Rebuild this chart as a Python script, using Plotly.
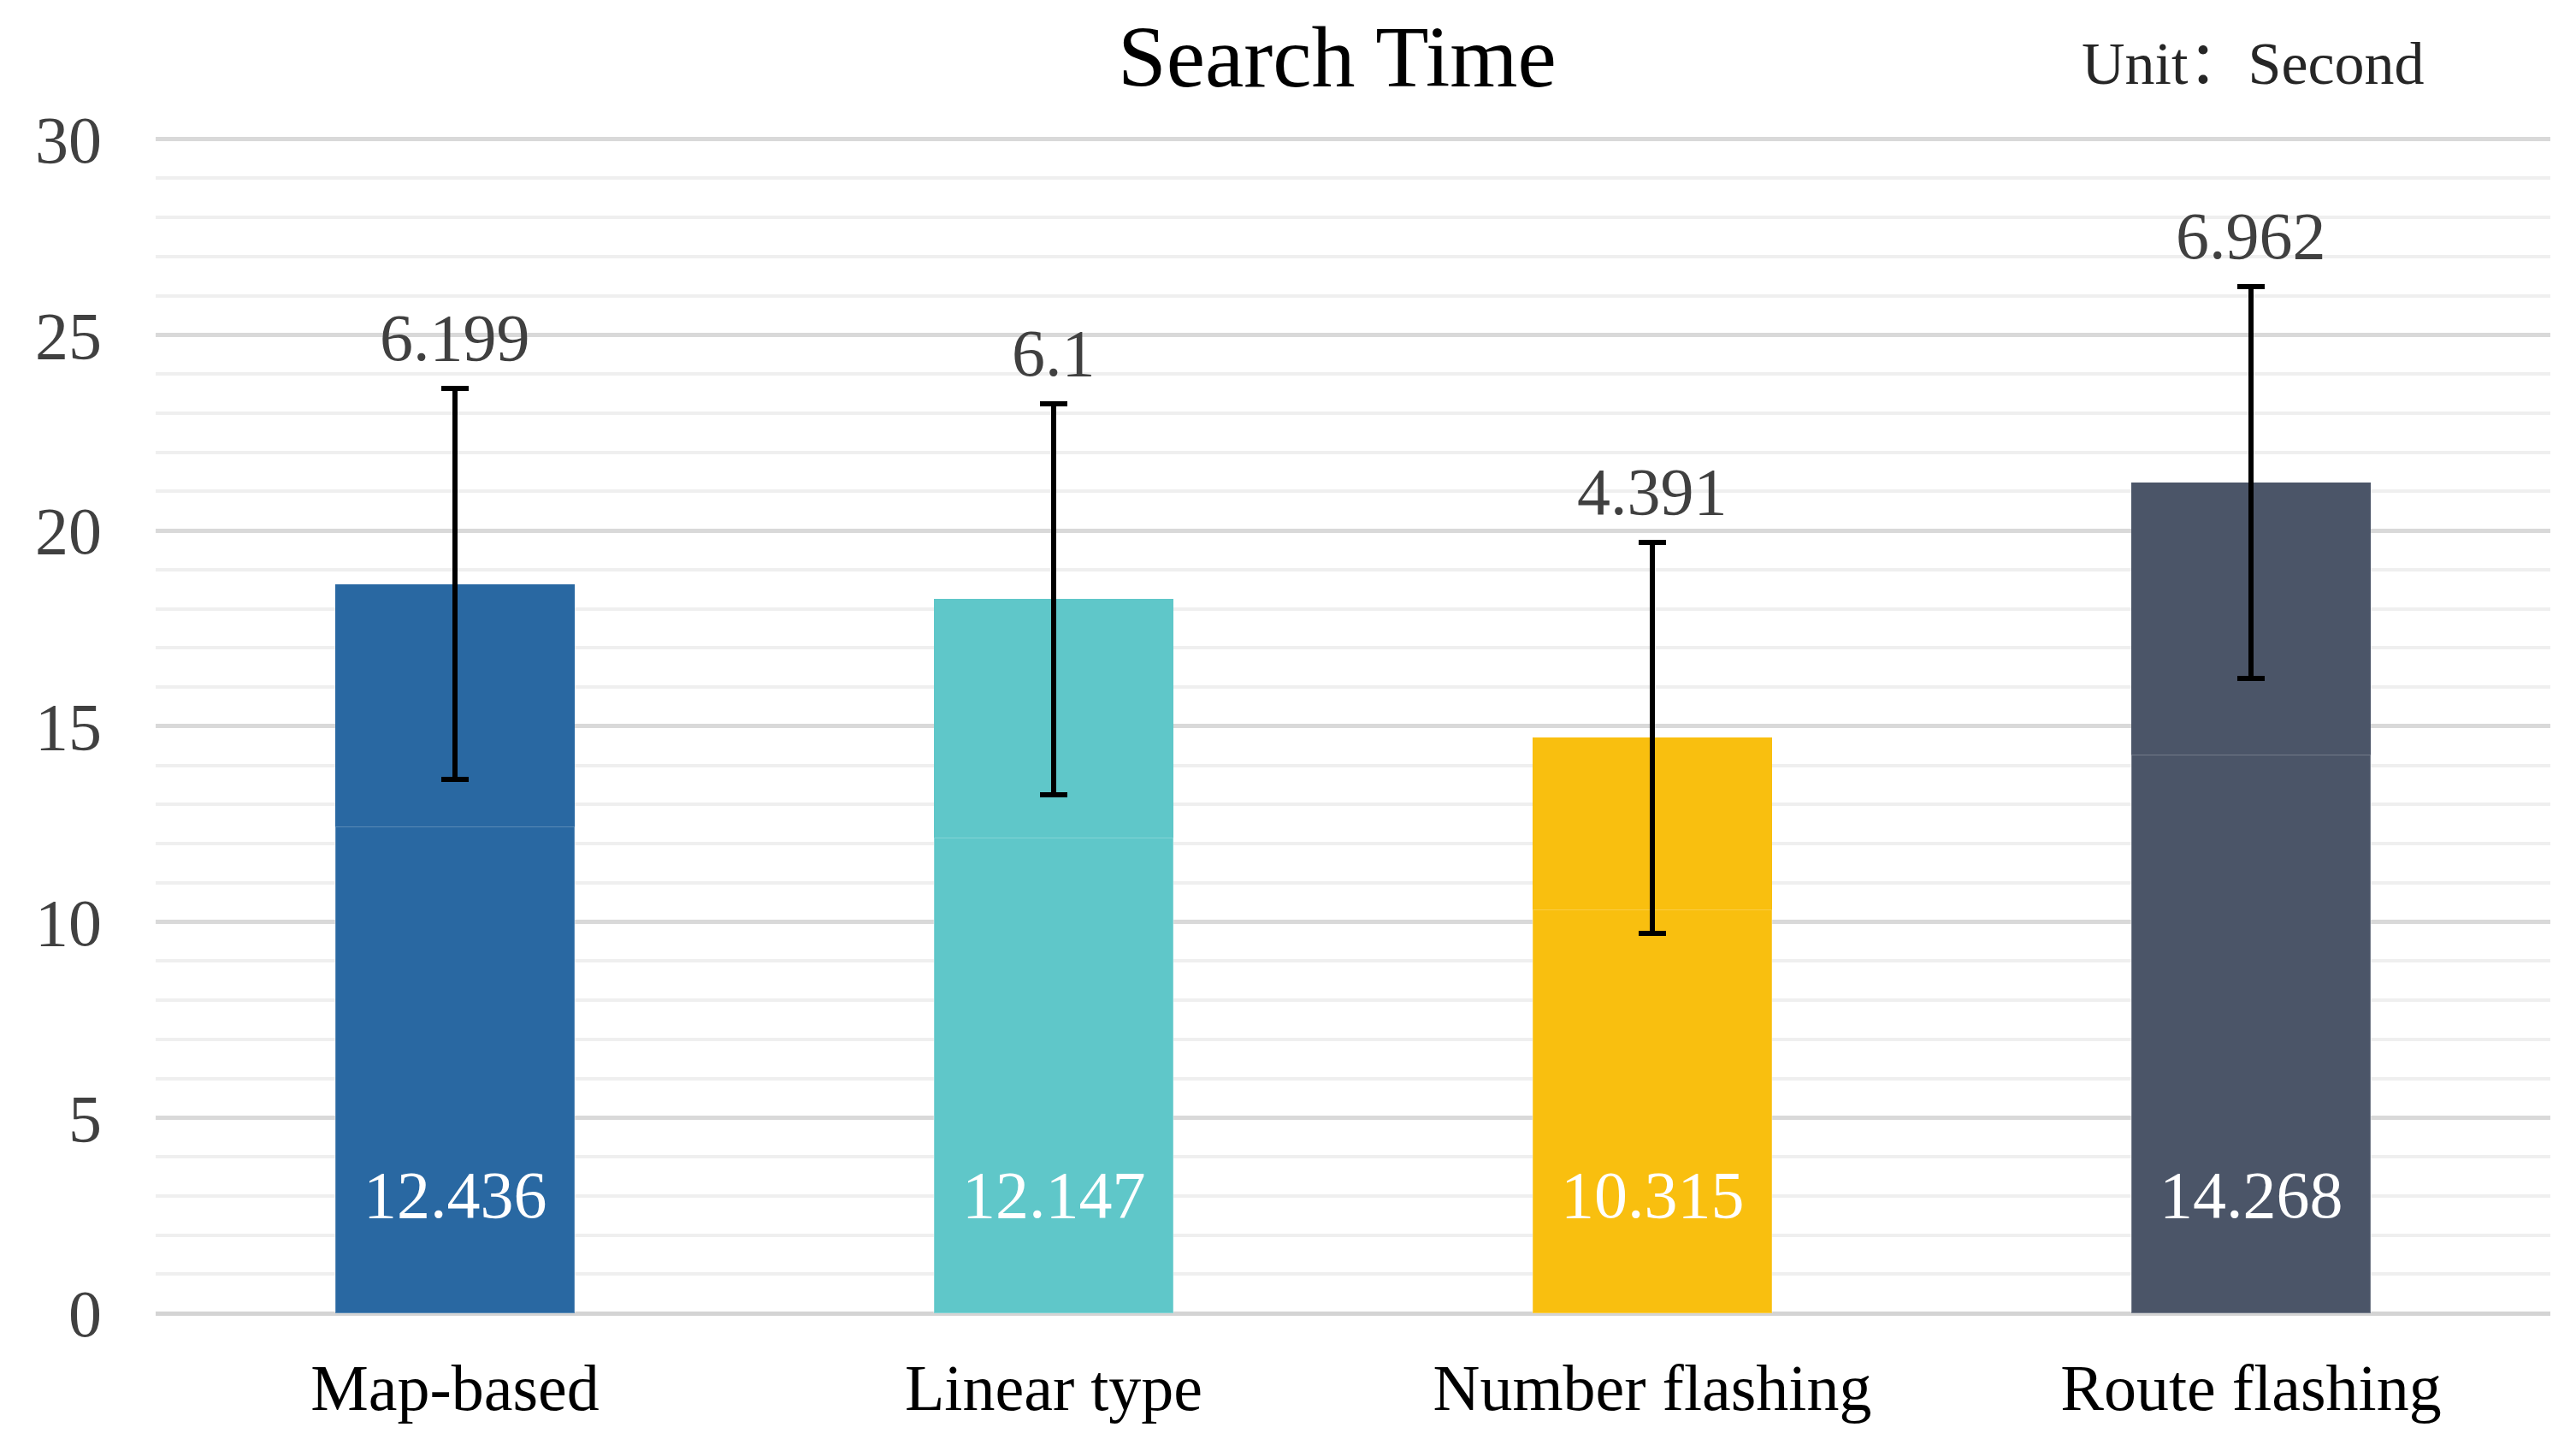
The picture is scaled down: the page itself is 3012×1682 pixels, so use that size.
import plotly.graph_objects as go

categories = ["Map-based", "Linear type", "Number flashing", "Route flashing"]
base_values = [12.436, 12.147, 10.315, 14.268]
top_values = [6.199, 6.1, 4.391, 6.962]
error_values = [5, 5, 5, 5]
bar_colors = ["#2968a2", "#5fc7c9", "#f9bf0f", "#4b5568"]
y_ticks = [0, 5, 10, 15, 20, 25, 30]

W, H = 3012, 1682
L, R, T, B = 174, 38, 150, 155
FONT = "Liberation Serif, Noto Sans CJK SC"

fig = go.Figure()
fig.add_trace(go.Bar(
    x=categories, y=base_values,
    marker=dict(color=bar_colors, line=dict(color="rgba(255,255,255,0.22)", width=2)),
    hoverinfo="skip", showlegend=False,
))
fig.add_trace(go.Bar(
    x=categories, y=top_values,
    marker=dict(color=bar_colors, line=dict(width=0)),
    error_y=dict(type="data", array=error_values, symmetric=True,
                 color="#000000", thickness=6, width=16),
    hoverinfo="skip", showlegend=False,
))

annotations = []
for c, b, t, e in zip(categories, base_values, top_values, error_values):
    annotations.append(dict(
        x=c, y=b + t + e, xref="x", yref="y", text=f"{t:g}",
        showarrow=False, yanchor="bottom", yshift=14,
        font=dict(family=FONT, size=78, color="#404040"),
    ))
    annotations.append(dict(
        x=c, y=0, xref="x", yref="y", text=f"{b:g}",
        showarrow=False, yanchor="middle", yshift=139,
        font=dict(family=FONT, size=78, color="#ffffff"),
    ))

ph = H - T - B
pw = W - L - R
annotations.append(dict(
    x=(2626 - L) / pw, y=(H - B - 66) / ph,
    xref="paper", yref="paper", text="Unit：Second", showarrow=False,
    xanchor="center", yanchor="middle",
    font=dict(family=FONT, size=70, color="#262626"),
))
annotations.append(dict(
    x=(1555 - L) / pw, y=(H - B - 59) / ph,
    xref="paper", yref="paper", text="Search Time", showarrow=False,
    xanchor="center", yanchor="middle",
    font=dict(family=FONT, size=102, color="#000000"),
))

fig.update_layout(
    width=W, height=H,
    margin=dict(l=L, r=R, t=T, b=B, pad=0),
    paper_bgcolor="#ffffff", plot_bgcolor="#ffffff",
    barmode="stack", bargap=0.6,
    annotations=annotations,
    xaxis=dict(showgrid=False, showline=False, zeroline=False,
               tickfont=dict(family=FONT, size=76, color="#000000"),
               ticks="", ticklabelstandoff=36),
    yaxis=dict(range=[0, 30.1], tickvals=y_ticks, showline=False,
               showgrid=True, gridcolor="#d9d9d9", gridwidth=5,
               zeroline=True, zerolinecolor="#d4d4d4", zerolinewidth=5,
               minor=dict(dtick=1, showgrid=True, gridcolor="#efefef", gridwidth=4),
               tickfont=dict(family=FONT, size=78, color="#404040"),
               ticks="", ticklabelstandoff=62),
)

fig.write_html("out.html")
